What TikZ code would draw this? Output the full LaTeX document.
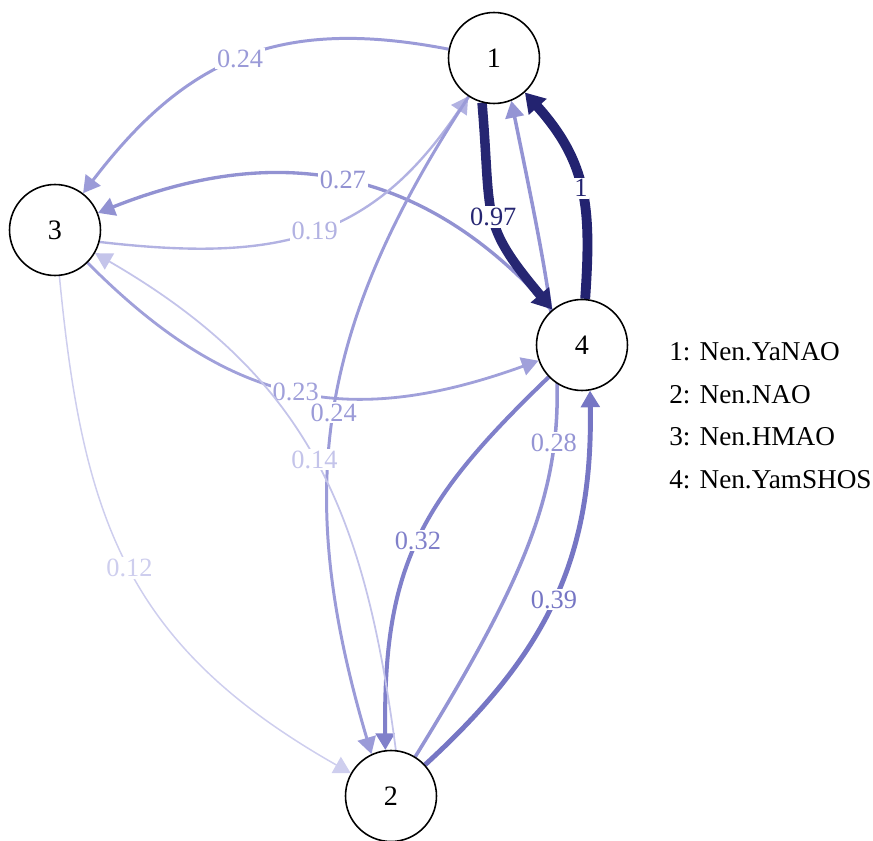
\documentclass[tikz,border=0pt]{standalone}
\usepackage{fontspec}
\setmainfont{Liberation Serif}
\usetikzlibrary{arrows.meta,positioning,backgrounds}
\definecolor{c100}{RGB}{35,35,112}
\definecolor{c97}{RGB}{38,38,114}
\definecolor{c39}{RGB}{118,118,196}
\definecolor{c32}{RGB}{128,128,202}
\definecolor{c28}{RGB}{148,148,212}
\definecolor{c27}{RGB}{146,146,210}
\definecolor{c24}{RGB}{155,155,216}
\definecolor{c23}{RGB}{160,160,218}
\definecolor{c19}{RGB}{178,178,226}
\definecolor{c14}{RGB}{196,196,234}
\definecolor{c12}{RGB}{206,206,238}
\begin{document}
\begin{tikzpicture}[x=0.02cm,y=0.02cm,
  state/.style={circle,draw=black,line width=0.9pt,fill=white,minimum size=1.82cm,inner sep=0pt,font=\fontsize{16}{18}\selectfont},
  arr/.style={-{Triangle[length=9.5pt,width=10.5pt]}},
  bigarr/.style={-{Triangle[length=11pt,width=13pt]}},
  elab/.style={fill=white,inner sep=1pt,pos=0.5,font=\fontsize{15}{17}\selectfont},
  legend/.style={inner sep=0pt,font=\fontsize{15.5}{18}\selectfont}
]
\useasboundingbox (0,0) rectangle (873,-841);
\node[state] (n1) at (494,-58) {1};
\node[state] (n3) at (55,-230) {3};
\node[state] (n4) at (582,-345) {4};
\node[state] (n2) at (391,-796) {2};
\node[legend,anchor=west] (l1) at (669,-352) {1: Nen.YaNAO};
\node[legend,below=0.85cm of l1.west,anchor=west] (l2) {2: Nen.NAO};
\node[legend,below=0.85cm of l2.west,anchor=west] (l3) {3: Nen.HMAO};
\node[legend,below=0.85cm of l3.west,anchor=west] (l4) {4: Nen.YamSHOS};
\begin{scope}[on background layer]
% edges, labels sit on top of the lines drawn before them
\draw[arr,c24,line width=1.7pt] (n1) .. controls (277.7,-16) and (185.3,-59.3) .. (n3) node[elab] {0.24};
\draw[arr,c27,line width=1.9pt] (n4) .. controls (422.4,-163.6) and (275.3,-142.5) .. (n3) node[elab] {0.27};
\draw[arr,c19,line width=1.35pt] (n3.-15) .. controls (278.4,-262.6) and (371.6,-240.5) .. (n1) node[elab] {0.19};
\draw[arr,c28,line width=2pt] (n2) .. controls (591,-472) and (577,-422) .. (n1.-68) node[elab] {0.28};
\draw[bigarr,c97,line width=5.4pt] (n1.-105) .. controls (492,-219) and (478.7,-221.9) .. (n4) node[elab] {0.97};
\draw[bigarr,c100,line width=5.6pt] (n4) .. controls (591.4,-208.5) and (587.9,-162.9) .. (n1) node[elab] {1};
\draw[arr,c32,line width=2.3pt] (n4) .. controls (420,-501) and (383,-565) .. (n2.97) node[elab] {0.32};
\draw[arr,c39,line width=2.8pt] (n2) .. controls (546,-654) and (593,-560) .. (n4.-80) node[elab] {0.39};
\draw[arr,c12,line width=0.85pt] (n3) .. controls (82.6,-519) and (126,-645.6) .. (n2) node[elab] {0.12};
\draw[arr,c23,line width=1.6pt] (n3) .. controls (231,-407) and (349,-429) .. (n4) node[elab] {0.23};
\draw[arr,c24,line width=1.7pt] (n1) .. controls (317,-328) and (293,-489) .. (n2.115) node[elab] {0.24};
\draw[arr,c14,line width=1pt] (n2.84) .. controls (364.5,-513) and (310.5,-378) .. (n3) node[elab] {0.14};
\end{scope}
\end{tikzpicture}
\end{document}
